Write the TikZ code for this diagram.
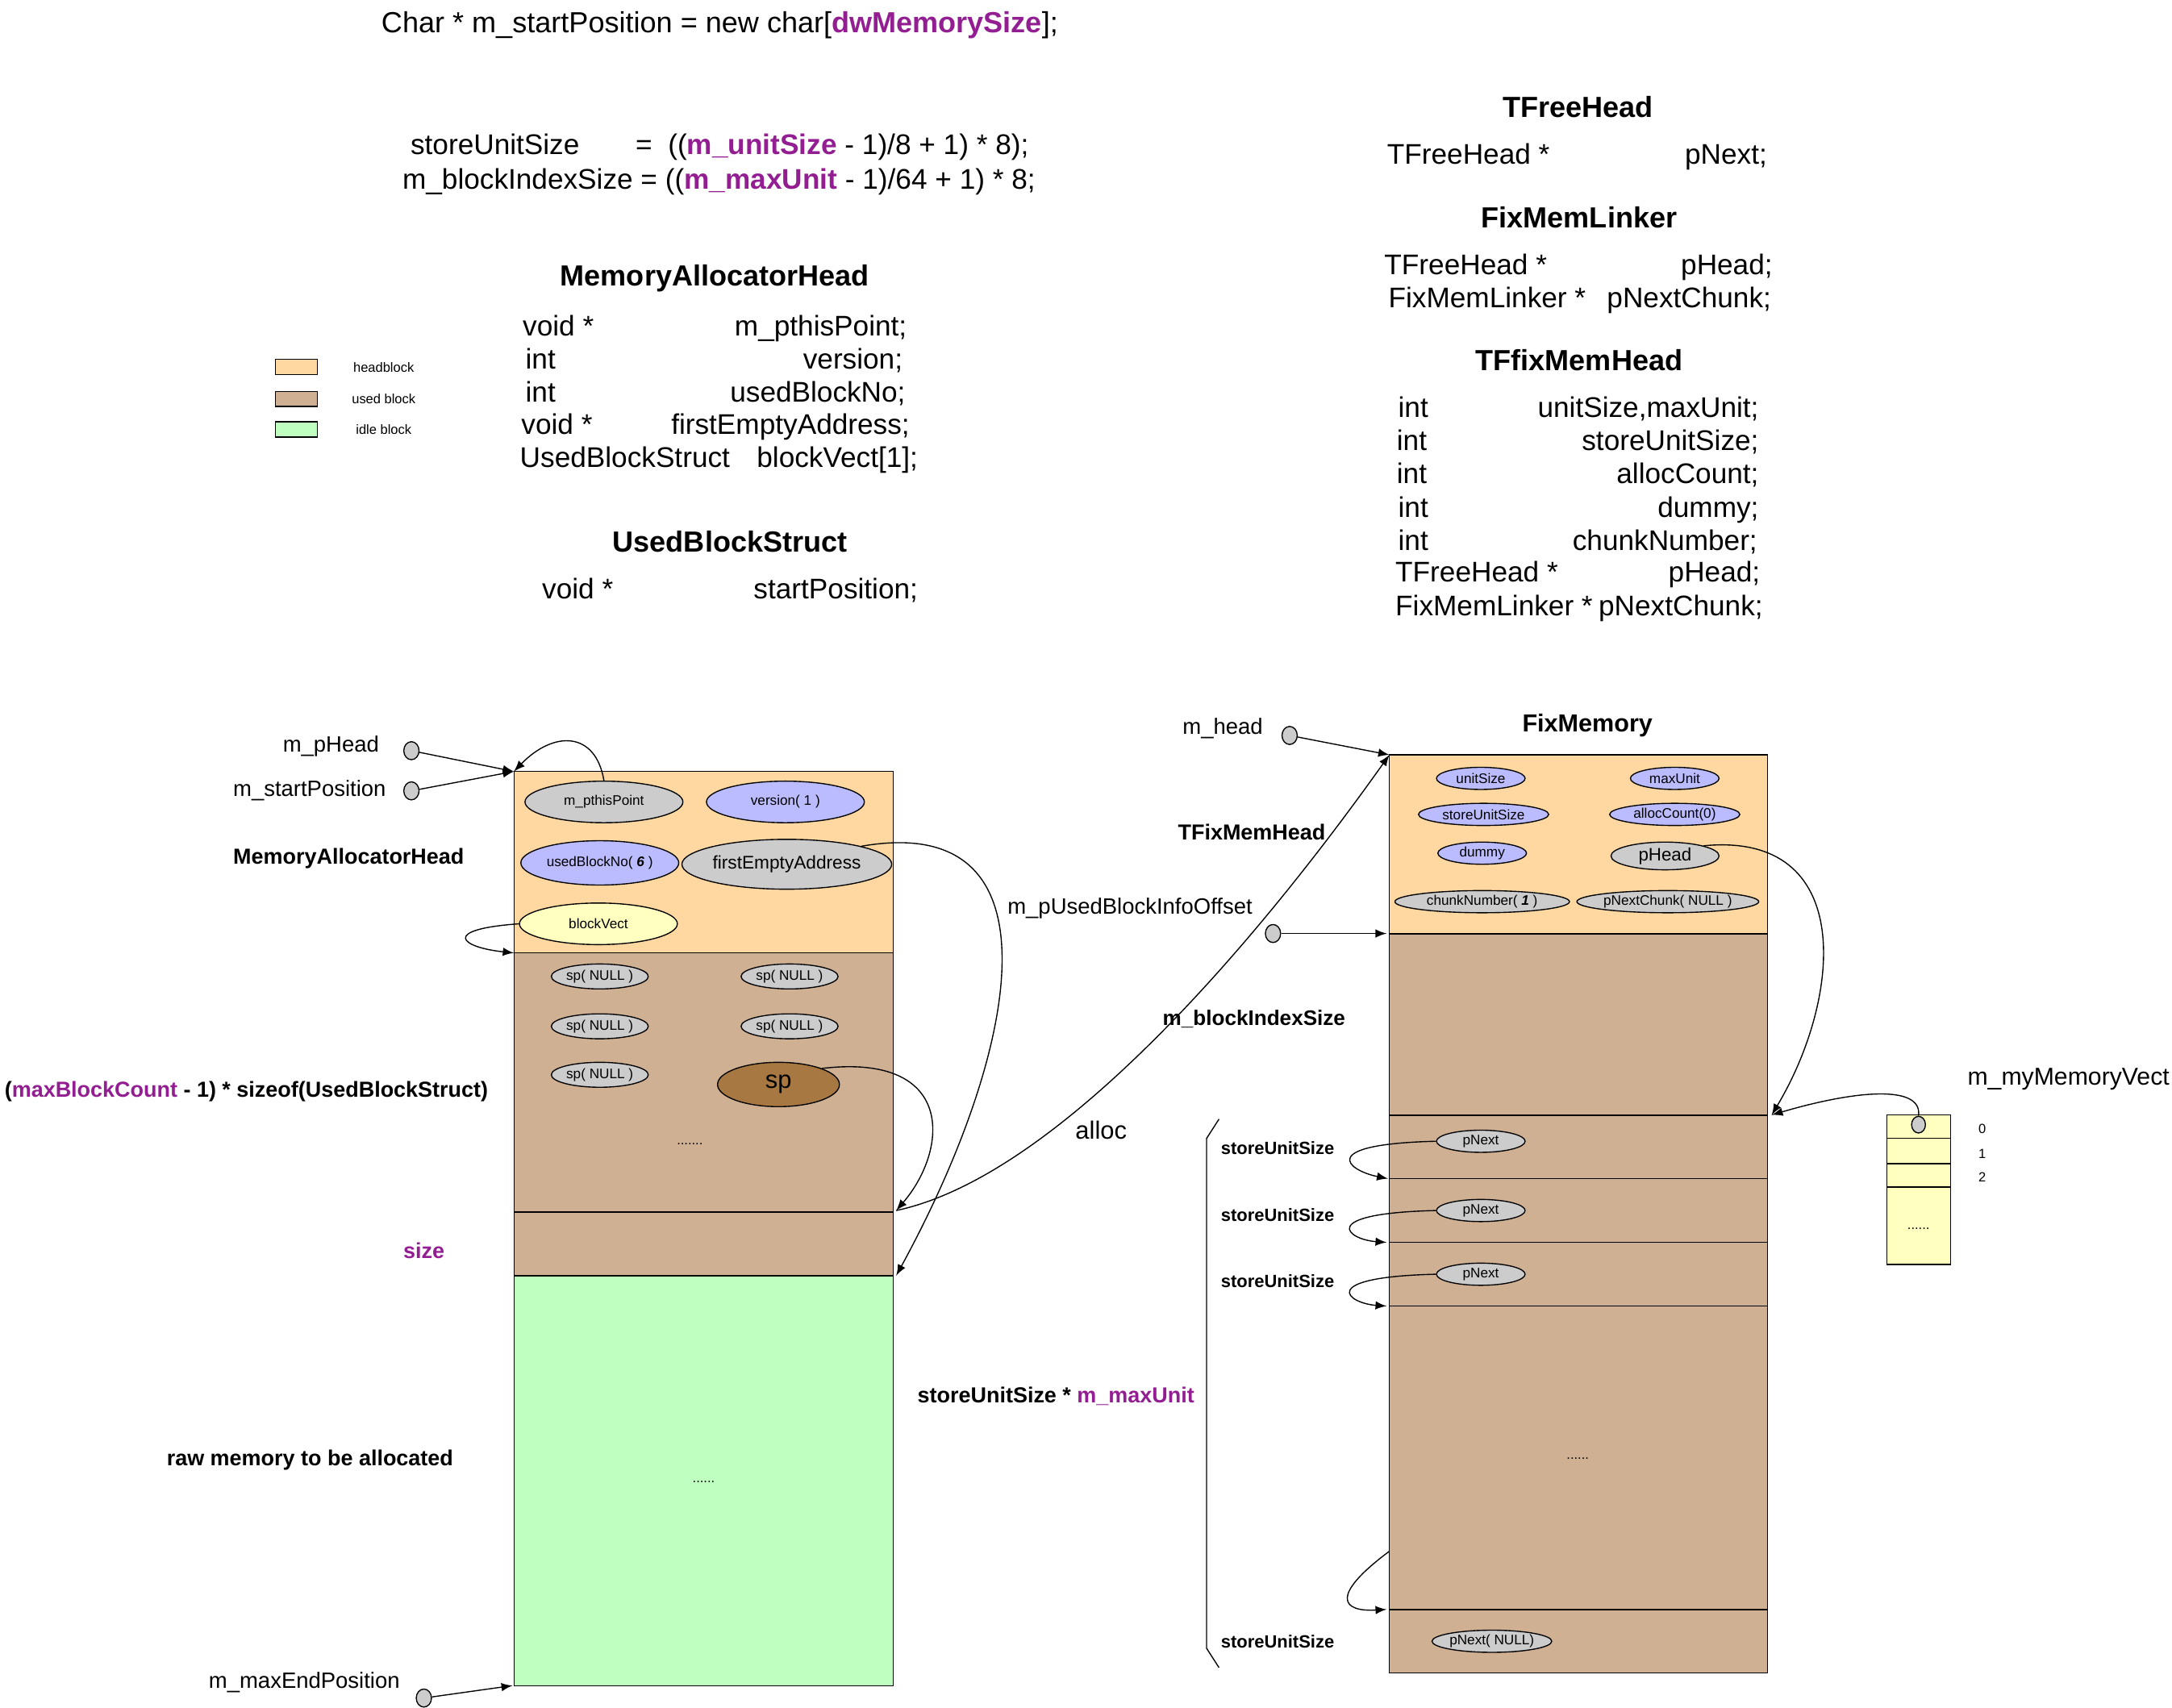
\documentclass[tikz,border=0pt]{standalone}
\usepackage{fontspec}
\setmainfont{Liberation Sans}
\usetikzlibrary{shapes.geometric,arrows}

\definecolor{headc}{RGB}{254,216,160}
\definecolor{usedc}{RGB}{207,176,146}
\definecolor{idlec}{RGB}{191,255,191}
\definecolor{fldblue}{RGB}{187,187,255}
\definecolor{fldgray}{RGB}{204,204,204}
\definecolor{fldyel}{RGB}{255,255,192}
\definecolor{spc}{RGB}{168,120,66}
\definecolor{mpurple}{RGB}{146,30,146}

\begin{document}
\begin{tikzpicture}[x=0.5pt,y=-0.5pt,
code/.style={font=\fontsize{10.25}{12}\selectfont,inner sep=0pt,text height=9.4pt,text depth=2.1pt},
head/.style={font=\fontsize{10.5}{12}\selectfont\bfseries,inner sep=0pt},
lbl/.style={font=\fontsize{7.85}{10}\selectfont\bfseries,inner sep=0pt},
tag/.style={font=\fontsize{8}{10}\selectfont,inner sep=0pt},
tiny/.style={font=\fontsize{4.8}{6}\selectfont,inner sep=0pt},
fld/.style={ellipse,draw,thin,inner sep=0pt,font=\fontsize{5}{6}\selectfont},
ptr/.style={ellipse,draw,thin,fill=fldgray,inner sep=0pt,minimum width=5.5pt,minimum height=6.5pt},
blk/.style={draw,thin},
link/.style={thin,-latex}]
\useasboundingbox (0,0) rectangle (1568,1233);

\node[code,anchor=west,font=\fontsize{10.5}{12}\selectfont] (newmem) at (275,16) {Char * m\_startPosition = new char[\textcolor{mpurple}{\textbf{dwMemorySize}}];};
\node[code,anchor=west] (susl) at (296,104) {storeUnitSize};
\node[code,anchor=east] (susr) at (743,104) {=\ \ ((\textcolor{mpurple}{\textbf{m\_unitSize}} - 1)/8 + 1) * 8);};
\node[code] (bis) at (519,129) {m\_blockIndexSize = ((\textcolor{mpurple}{\textbf{m\_maxUnit}} - 1)/64 + 1) * 8;};

\node[head] (mahT) at (516,201) {MemoryAllocatorHead};
\foreach \ty/\tx/\nm/\nx/\y [count=\i] in {void */377/m\_pthisPoint;/655/235, int/379/version;/652/259, int/379/usedBlockNo;/654/283, void */376/firstEmptyAddress;/657/306, UsedBlockStruct/375/blockVect[1];/663/330}
{\node[code,anchor=west] (maht\i) at (\tx,\y) {\ty};
 \node[code,anchor=east] (mahn\i) at (\nx,\y) {\nm};}
\node[head] (ubsT) at (527,391) {UsedBlockStruct};
\node[code,anchor=west] (ubst) at (391,425) {void *};
\node[code,anchor=east] (ubsn) at (663,425) {startPosition;};

\node[head] (tfhT) at (1139,77) {TFreeHead};
\node[code,anchor=west] (tfht) at (1001,111) {TFreeHead *};
\node[code,anchor=east] (tfhn) at (1276,111) {pNext;};
\node[head] (fmlT) at (1140,157) {FixMemLinker};
\node[code,anchor=west] (fmlt1) at (999,191) {TFreeHead *};
\node[code,anchor=east] (fmln1) at (1280,191) {pHead;};
\node[code,anchor=west] (fmlt2) at (1002,215) {FixMemLinker *};
\node[code,anchor=east] (fmln2) at (1279,215) {pNextChunk;};
\node[head] (tfmT) at (1140,260) {TFfixMemHead};
\foreach \ty/\tx/\nm/\nx/\y [count=\i] in {int/1009/{unitSize,maxUnit;}/1270/294, int/1008/storeUnitSize;/1270/318, int/1008/allocCount;/1270/342, int/1009/dummy;/1270/366, int/1009/chunkNumber;/1269/390, TFreeHead */1007/pHead;/1271/413, FixMemLinker */1007/pNextChunk;/1273/437}
{\node[code,anchor=west] (tfmt\i) at (\tx,\y) {\ty};
 \node[code,anchor=east] (tfmn\i) at (\nx,\y) {\nm};}

\foreach \c/\t/\y [count=\i] in {headc/headblock/265, usedc/used block/288, idlec/idle block/310}
{\draw[blk,fill=\c] (199,\y-5.5) rectangle (229,\y+5.5);
 \node[tiny] (lg\i) at (277,\y) {\t};}

\draw[blk,fill=headc] (371,557) rectangle (645,688);
\draw[blk,fill=usedc] (371,688) rectangle (645,875);
\draw[blk,fill=usedc] (371,875) rectangle (645,921);
\draw[blk,fill=idlec] (371,921) rectangle (645,1217);
\draw[semithick] (371,921) -- (645,921);
\coordinate (lhtl) at (371,557);
\coordinate (lutl) at (371,688);
\coordinate (lsbr) at (647,874);
\coordinate (lgtr) at (647,921);
\coordinate (lgbl) at (370,1217);

\node[fld,fill=fldgray,minimum width=57pt,minimum height=15pt] (pthis) at (436,579) {m\_pthisPoint};
\node[fld,fill=fldblue,minimum width=57pt,minimum height=15pt] (ver) at (567,579) {version( 1 )};
\node[fld,fill=fldblue,minimum width=57pt,minimum height=16pt] (ubn) at (433,623) {usedBlockNo( \textbf{\textit{6}} )};
\node[fld,fill=fldgray,minimum width=72pt,minimum height=18pt,font=\fontsize{6.6}{8}\selectfont] (fea) at (568,624) {firstEmptyAddress};
\node[fld,fill=fldyel,minimum width=57pt,minimum height=15pt] (bv) at (432,667) {blockVect};
\foreach \x/\y [count=\i] in {433/705, 570/705, 433/741, 570/741, 433/776}
  \node[fld,fill=fldgray,minimum width=35pt,minimum height=9pt] (spn\i) at (\x,\y) {sp( NULL )};
\node[fld,fill=spc,minimum width=44pt,minimum height=16pt,font=\fontsize{9}{10}\selectfont] (sp) at (562,783) {sp};
\node[tiny] (udots) at (498,826) {.......};
\node[tiny] (gdots) at (508,1070) {......};

\node[tag,anchor=east] (mph) at (274,539) {m\_pHead};
\node[tag,anchor=east] (msp) at (279,571) {m\_startPosition};
\node[tag,anchor=east] (mep) at (289,1215) {m\_maxEndPosition};
\node[ptr] (mphd) at (297,542) {};
\node[ptr] (mspd) at (297,571) {};
\node[ptr] (mepd) at (306,1226) {};
\draw[link] (mphd) -- (lhtl);
\draw[link] (mspd) -- (lhtl);
\draw[link] (mepd) -- (lgbl);
\draw[link] (pthis.north) .. controls (430,528) and (400,527) .. (lhtl);
\draw[link] (bv.west) .. controls (318,671) and (332,684) .. (lutl);
\draw[link] (fea.north east) .. controls (770,585) and (735,760) .. (lgtr);
\draw[link] (sp.north east) .. controls (690,760) and (685,830) .. (lsbr);

\node[lbl,anchor=west] (mahL) at (168,620) {MemoryAllocatorHead};
\node[lbl,anchor=west] (mbc) at (3,788) {(\textcolor{mpurple}{maxBlockCount} - 1) * sizeof(UsedBlockStruct)};
\node[lbl,text=mpurple] (sizeL) at (306,903) {size};
\node[lbl,anchor=west] (raw) at (120,1054) {raw memory to be allocated};

\draw[blk,fill=headc] (1003,545) rectangle (1276,674);
\draw[blk,fill=usedc] (1003,674) rectangle (1276,805);
\foreach \a/\b in {805/851, 851/897, 897/943, 943/1162, 1162/1208}
  \draw[blk,fill=usedc] (1003,\a) rectangle (1276,\b);
\draw[semithick] (1003,674) -- (1276,674) (1003,805) -- (1276,805) (1003,1162) -- (1276,1162);
\coordinate (rhtl) at (1003,545);
\coordinate (ritl) at (1001,674);
\coordinate (rutr) at (1279,805);
\coordinate (ru1) at (1002,851);
\coordinate (ru2) at (1001,897);
\coordinate (ru3) at (1001,943);
\coordinate (ru4) at (1001,1162);
\coordinate (rbig) at (1003,1120);

\node[fld,fill=fldblue,minimum width=32pt,minimum height=8pt] (usz) at (1069,562) {unitSize};
\node[fld,fill=fldblue,minimum width=32pt,minimum height=8pt] (mxu) at (1209,562) {maxUnit};
\node[fld,fill=fldblue,minimum width=47pt,minimum height=8pt] (ssz) at (1071,588) {storeUnitSize};
\node[fld,fill=fldblue,minimum width=47pt,minimum height=8pt] (acn) at (1209,588) {allocCount(0)};
\node[fld,fill=fldblue,minimum width=32pt,minimum height=8pt] (dmy) at (1070,616) {dummy};
\node[fld,fill=fldgray,minimum width=39pt,minimum height=10pt,font=\fontsize{6.5}{8}\selectfont] (phd) at (1202,618) {pHead};
\node[fld,fill=fldgray,minimum width=63pt,minimum height=8pt] (chn) at (1070,651) {chunkNumber( \textbf{\textit{1}} )};
\node[fld,fill=fldgray,minimum width=63pt,minimum height=8pt] (pnc) at (1204,651) {pNextChunk( NULL )};
\foreach \y/\t [count=\i] in {824/ru1, 874/ru2, 920/ru3}
{\node[fld,fill=fldgray,minimum width=32pt,minimum height=8pt] (pn\i) at (1069,\y) {pNext};
 \draw[link] (pn\i.west) .. controls (950,\y+2) and (972,\y+21) .. (\t);}
\node[fld,fill=fldgray,minimum width=40pt,minimum height=8pt] (pnn) at (1077,1185) {pNext( NULL)};
\draw[link] (rbig) .. controls (960,1152) and (968,1164) .. (ru4);
\node[tiny] (rdots) at (1139,1053) {......};

\foreach \y [count=\i] in {829, 877, 925, 1185}
  \node[lbl,anchor=west,font=\fontsize{6.4}{8}\selectfont\bfseries] (sul\i) at (881,\y) {storeUnitSize};
\draw[thin] (880,808) -- (871,822) -- (871,1190) -- (880,1204);
\node[lbl,anchor=west] (sumx) at (662,1008) {storeUnitSize * \textcolor{mpurple}{m\_maxUnit}};

\node[lbl,font=\fontsize{8.9}{10}\selectfont\bfseries] (fixT) at (1146,524) {FixMemory};
\node[lbl,anchor=west] (tfmL) at (850,601) {TFixMemHead};
\node[lbl,anchor=west,font=\fontsize{7.6}{10}\selectfont\bfseries] (bisL) at (839,736) {m\_blockIndexSize};
\node[tag,anchor=east] (mhd) at (912,526) {m\_head};
\node[ptr] (mhdd) at (931,531) {};
\node[ptr] (mubd) at (919,674) {};
\node[tag,anchor=west] (mubo) at (727,656) {m\_pUsedBlockInfoOffset};
\node[tag,anchor=west,font=\fontsize{9}{10}\selectfont] (allocL) at (776,816) {alloc};
\draw[link] (mhdd) -- (rhtl);
\draw[link] (mubd) -- (ritl);
\draw[link] (lsbr) .. controls (760,850) and (900,690) .. (rhtl);
\draw[link] (phd.north east) .. controls (1340,600) and (1330,720) .. (rutr);

\draw[blk,fill=fldyel] (1362,805) rectangle (1408,913);
\draw[thin] (1362,822) -- (1408,822) (1362,857) -- (1408,857);
\draw[semithick] (1362,840) -- (1408,840);
\node[ptr,minimum width=5pt,minimum height=6pt] (vdot) at (1385,812) {};
\draw[link] (vdot.north) .. controls (1388,783) and (1340,787) .. (rutr);
\node[tag,anchor=west,font=\fontsize{8.8}{10}\selectfont] (vecL) at (1420,779) {m\_myMemoryVect};
\foreach \y/\t in {815/0, 833/1, 850/2}
  \node[tiny] (vi\t) at (1431,\y) {\t};
\node[tiny] (vdots) at (1385,887) {......};
\end{tikzpicture}
\end{document}
